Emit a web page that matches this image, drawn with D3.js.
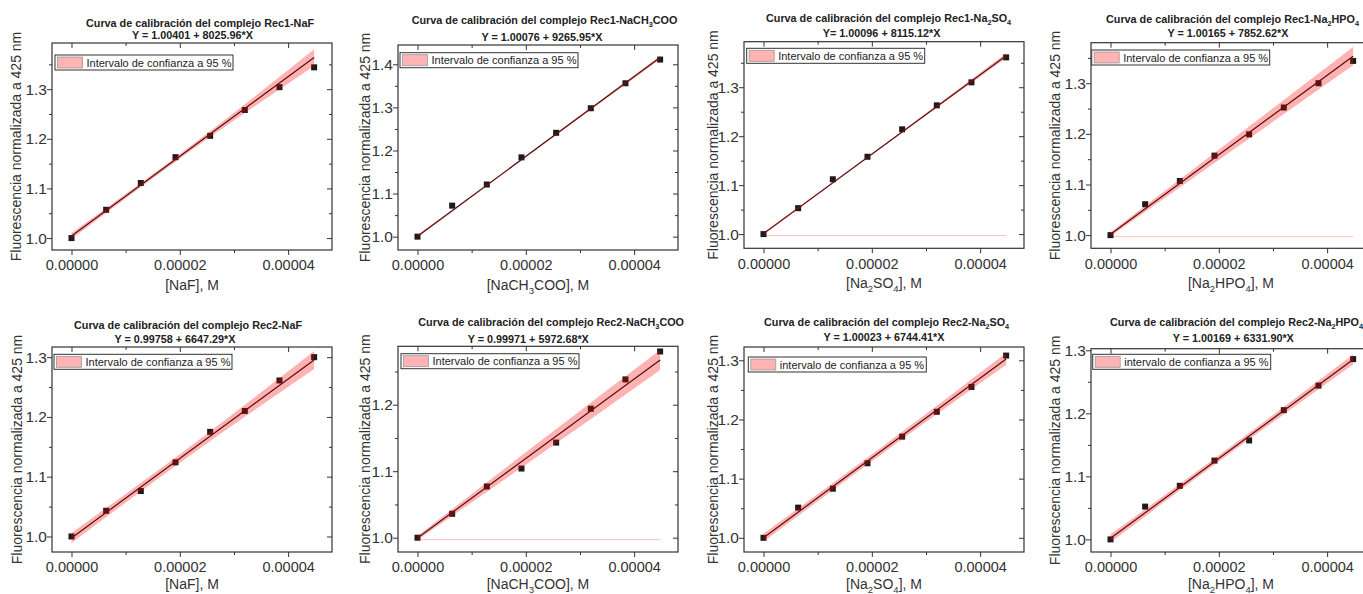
<!DOCTYPE html>
<html><head><meta charset="utf-8">
<script src="https://cdn.jsdelivr.net/npm/d3@7"></script>
<style>
body{margin:0;background:#fff}
svg{display:block}
text{font-family:"Liberation Sans",Arial,sans-serif}
</style>
</head><body>
<svg id="c" width="1363" height="594"></svg>
<script>
// ---------------- DATA ----------------
const concentrations = [0, 6.4e-6, 12.8e-6, 19.2e-6, 25.6e-6, 32.0e-6, 38.4e-6, 44.8e-6];

const titles = [
  "Curva de calibración del complejo Rec1-NaF",
  "Curva de calibración del complejo Rec1-NaCH{3}COO",
  "Curva de calibración del complejo Rec1-Na{2}SO{4}",
  "Curva de calibración del complejo Rec1-Na{2}HPO{4}",
  "Curva de calibración del complejo Rec2-NaF",
  "Curva de calibración del complejo Rec2-NaCH{3}COO",
  "Curva de calibración del complejo Rec2-Na{2}SO{4}",
  "Curva de calibración del complejo Rec2-Na{2}HPO{4}"
];
const equations = [
  "Y = 1.00401 + 8025.96*X",
  "Y = 1.00076 + 9265.95*X",
  "Y= 1.00096 + 8115.12*X",
  "Y = 1.00165 + 7852.62*X",
  "Y = 0.99758 + 6647.29*X",
  "Y = 0.99971 + 5972.68*X",
  "Y = 1.00023 + 6744.41*X",
  "Y = 1.00169 + 6331.90*X"
];
const intercepts = [1.00401, 1.00076, 1.00096, 1.00165, 0.99758, 0.99971, 1.00023, 1.00169];
const slopes     = [8025.96, 9265.95, 8115.12, 7852.62, 6647.29, 5972.68, 6744.41, 6331.90];

const xAxisTitles = ["[NaF], M", "[NaCH{3}COO], M", "[Na{2}SO{4}], M", "[Na{2}HPO{4}], M",
                     "[NaF], M", "[NaCH{3}COO], M", "[Na{2}SO{4}], M", "[Na{2}HPO{4}], M"];
const yAxisTitle = "Fluorescencia normalizada a 425 nm";
const legendLabels = ["Intervalo de confianza a 95 %", "Intervalo de confianza a 95 %",
  "Intervalo de confianza a 95 %", "Intervalo de confianza a 95 %",
  "Intervalo de confianza a 95 %", "Intervalo de confianza a 95 %",
  "intervalo de confianza a 95 %", "intervalo de confianza a 95 %"];

const fluor_Rec1_NaF     = [1.000, 1.057, 1.111, 1.163, 1.206, 1.258, 1.304, 1.344];
const fluor_Rec1_NaAc    = [1.000, 1.072, 1.121, 1.184, 1.241, 1.298, 1.356, 1.411];
const fluor_Rec1_Na2SO4  = [1.000, 1.053, 1.112, 1.158, 1.214, 1.263, 1.310, 1.361];
const fluor_Rec1_Na2HPO4 = [1.000, 1.061, 1.107, 1.157, 1.199, 1.252, 1.300, 1.344];
const fluor_Rec2_NaF     = [1.000, 1.043, 1.076, 1.124, 1.175, 1.210, 1.261, 1.300];
const fluor_Rec2_NaAc    = [1.000, 1.036, 1.077, 1.104, 1.143, 1.194, 1.238, 1.280];
const fluor_Rec2_Na2SO4  = [1.000, 1.051, 1.083, 1.126, 1.171, 1.213, 1.255, 1.308];
const fluor_Rec2_Na2HPO4 = [1.000, 1.052, 1.085, 1.125, 1.157, 1.205, 1.244, 1.286];
const fluorSeries = [fluor_Rec1_NaF, fluor_Rec1_NaAc, fluor_Rec1_Na2SO4, fluor_Rec1_Na2HPO4,
                     fluor_Rec2_NaF, fluor_Rec2_NaAc, fluor_Rec2_Na2SO4, fluor_Rec2_Na2HPO4];

// 95% confidence band half-width read at x = bandAt
const bandAt = [0, 2.24e-5, 4.48e-5];
const bandHalf = [
  [0.006, 0.005, 0.017],
  [0.003, 0.002, 0.004],
  [0.003, 0.002, 0.005],
  [0.004, 0.011, 0.018],
  [0.0084, 0.0075, 0.015],
  [0.003, 0.010, 0.015],
  [0.0068, 0.006, 0.010],
  [0.0063, 0.005, 0.008]
];
const bandBaseFlag = [false, false, true, true, false, true, false, false];
const bandBaseValue = 0.997;

const xDomain = [-3.6e-6, 4.81e-5];
const xMajorTicks = [0, 2e-5, 4e-5];
const xMinorTicks = [1e-5, 3e-5];
const yDomains = [[0.976,1.393],[0.969,1.4448],[0.971,1.393],[0.974,1.380],
                  [0.974,1.317],[0.9785,1.2878],[0.976,1.3225],[0.98,1.3025]];
const yMajorTicks = [
  [1.0,1.1,1.2,1.3],[1.0,1.1,1.2,1.3,1.4],[1.0,1.1,1.2,1.3],[1.0,1.1,1.2,1.3],
  [1.0,1.1,1.2,1.3],[1.0,1.1,1.2],[1.0,1.1,1.2,1.3],[1.0,1.1,1.2,1.3]
];
const yMinorCandidates = [0.95,1.05,1.15,1.25,1.35,1.45];

// ---------------- LAYOUT ----------------
const frameW = 280;
const frameLeft   = [52, 398, 744, 1091, 52, 398, 744, 1091];
const frameTop    = [43, 45, 41.7, 42.7, 347, 346.3, 347, 348.7];
const frameBottom = [250, 250, 248.3, 248.3, 552, 552, 552, 552];
const titlePos = [ // [line1 start x, line1 center y, line2 center x, line2 center y]
  [86,22.7,192.5,35],[411.7,20,542,36.7],[766,18.3,881.7,33.3],[1106,19.3,1228,33.3],
  [74,325.3,175,338.7],[418.3,322,528.3,338.7],[764,322,884,337],[1110,322,1233.3,337.7]
];
const legendOff = [[3,12],[2,7.7],[2.7,6.6],[0.7,7.3],[2,7.3],[3,7.4],[4.3,10],[1.7,5.6]];
const yTitleOff = [-36,-33,-31,-36,-35,-33,-31,-36];

// ---------------- DRAW ----------------
const svg = d3.select("#c");
svg.append("rect").attr("width",1363).attr("height",594).attr("fill","#fff");

function rich(sel, str, fs) {
  const parts = str.split(/(\{[^}]*\})/).filter(s => s.length);
  let shifted = false;
  parts.forEach(p => {
    if (p[0] === "{") {
      sel.append("tspan").attr("dy", fs*0.25).attr("font-size", fs*0.68).text(p.slice(1,-1));
      shifted = true;
    } else {
      const t = sel.append("tspan").text(p);
      if (shifted) { t.attr("dy", -fs*0.25); shifted = false; }
    }
  });
}

const frameColor = "#333";
const TF = 10.8, XTICKF = 14.5, YTICKF = 15.5, AXF = 14, LEGF = 11;

for (let i = 0; i < 8; i++) {
  const L = frameLeft[i], T = frameTop[i], B = frameBottom[i], R = L + frameW;
  const x = d3.scaleLinear().domain(xDomain).range([L, R]);
  const y = d3.scaleLinear().domain(yDomains[i]).range([B, T]);
  const g = svg.append("g");

  // fit line
  const xs = [concentrations[0], concentrations[concentrations.length-1]];
  const fit = v => intercepts[i] + slopes[i]*v;
  g.append("path")
    .attr("d", d3.line().x(d => x(d)).y(d => y(fit(d)))(xs))
    .attr("stroke", "#111").attr("stroke-width", 1.2).attr("fill", "none");

  // markers
  g.selectAll("rect.pt").data(concentrations.map((c,k) => [c, fluorSeries[i][k]]))
    .join("rect").attr("class","pt")
    .attr("x", d => x(d[0]) - 3).attr("y", d => y(d[1]) - 3)
    .attr("width", 6).attr("height", 6).attr("fill", "#1a1a1a");

  // confidence band (drawn on top, translucent)
  const area = d3.area().curve(d3.curveNatural)
    .x(d => x(d[0]))
    .y0(d => y(fit(d[0]) - d[1]))
    .y1(d => y(fit(d[0]) + d[1]));
  g.append("path")
    .attr("d", area(bandAt.map((b,k) => [b, bandHalf[i][k]])))
    .attr("fill", "rgba(255,0,0,0.3)").attr("stroke", "none");
  if (bandBaseFlag[i]) {
    g.append("line")
      .attr("x1", x(concentrations[0])).attr("x2", x(concentrations[concentrations.length-1]))
      .attr("y1", y(bandBaseValue)).attr("y2", y(bandBaseValue))
      .attr("stroke", "rgba(255,0,0,0.25)").attr("stroke-width", 1);
  }

  // axes
  const styleAxis = fs => sel => {
    sel.select(".domain").remove();
    sel.selectAll("line").attr("stroke", frameColor).attr("stroke-width", 1);
    sel.selectAll("text").attr("fill", "#333").attr("font-size", fs)
      .attr("font-family", '"Liberation Sans",Arial,sans-serif');
  };
  g.append("g").attr("transform", `translate(0,${B})`)
    .call(d3.axisBottom(x).tickValues(xMajorTicks).tickFormat(d3.format(".5f")).tickSize(5).tickPadding(5))
    .call(styleAxis(XTICKF));
  g.append("g").attr("transform", `translate(0,${B})`)
    .call(d3.axisBottom(x).tickValues(xMinorTicks).tickFormat("").tickSize(3))
    .call(styleAxis(XTICKF));
  g.append("g").attr("transform", `translate(0,${T})`)
    .call(d3.axisTop(x).tickValues(xMajorTicks).tickFormat("").tickSize(-5))
    .call(styleAxis(XTICKF));
  g.append("g").attr("transform", `translate(0,${T})`)
    .call(d3.axisTop(x).tickValues(xMinorTicks).tickFormat("").tickSize(-3))
    .call(styleAxis(XTICKF));

  const yd = yDomains[i];
  const yMinor = yMinorCandidates.filter(v => v > yd[0] && v < yd[1]);
  g.append("g").attr("transform", `translate(${L},0)`)
    .call(d3.axisLeft(y).tickValues(yMajorTicks[i]).tickFormat(d3.format(".1f")).tickSize(5).tickPadding(0))
    .call(styleAxis(YTICKF));
  g.append("g").attr("transform", `translate(${L},0)`)
    .call(d3.axisLeft(y).tickValues(yMinor).tickFormat("").tickSize(3))
    .call(styleAxis(YTICKF));
  g.append("g").attr("transform", `translate(${R},0)`)
    .call(d3.axisRight(y).tickValues(yMajorTicks[i]).tickFormat("").tickSize(-5))
    .call(styleAxis(YTICKF));
  g.append("g").attr("transform", `translate(${R},0)`)
    .call(d3.axisRight(y).tickValues(yMinor).tickFormat("").tickSize(-3))
    .call(styleAxis(YTICKF));

  // frame
  g.append("rect").attr("x", L).attr("y", T).attr("width", frameW).attr("height", B - T)
    .attr("fill", "none").attr("stroke", frameColor).attr("stroke-width", 1.2);

  // legend
  const lx = L + legendOff[i][0], ly = T + legendOff[i][1];
  const lg = g.append("g");
  lg.append("rect").attr("x", lx).attr("y", ly).attr("width", 178).attr("height", 15)
    .attr("fill", "#fff").attr("stroke", frameColor).attr("stroke-width", 1);
  lg.append("rect").attr("x", lx + 2.5).attr("y", ly + 2).attr("width", 25).attr("height", 11)
    .attr("fill", "#ffb3b3").attr("stroke", "#999").attr("stroke-width", 0.8);
  lg.append("text").attr("x", lx + 31.5).attr("y", ly + 11.6)
    .attr("font-size", LEGF).attr("fill", "#222").text(legendLabels[i]);

  // titles
  const tp = titlePos[i];
  const t1 = g.append("text").attr("x", tp[0]).attr("y", tp[1] + 3.9)
    .attr("font-size", TF).attr("font-weight", "bold").attr("fill", "#222");
  rich(t1, titles[i], TF);
  g.append("text").attr("x", tp[2]).attr("y", tp[3] + 3.9).attr("text-anchor", "middle")
    .attr("font-size", TF).attr("font-weight", "bold").attr("fill", "#222").text(equations[i]);

  // axis titles
  const xt = g.append("text").attr("x", (L + R)/2).attr("y", Math.min(B + 40, 589)).attr("text-anchor", "middle")
    .attr("font-size", AXF).attr("fill", "#333");
  rich(xt, xAxisTitles[i], AXF);
  g.append("text")
    .attr("transform", `translate(${L + yTitleOff[i] + 5},${(T + B)/2}) rotate(-90)`)
    .attr("text-anchor", "middle").attr("font-size", AXF).attr("fill", "#333").text(yAxisTitle);
}
</script>
</body></html>
